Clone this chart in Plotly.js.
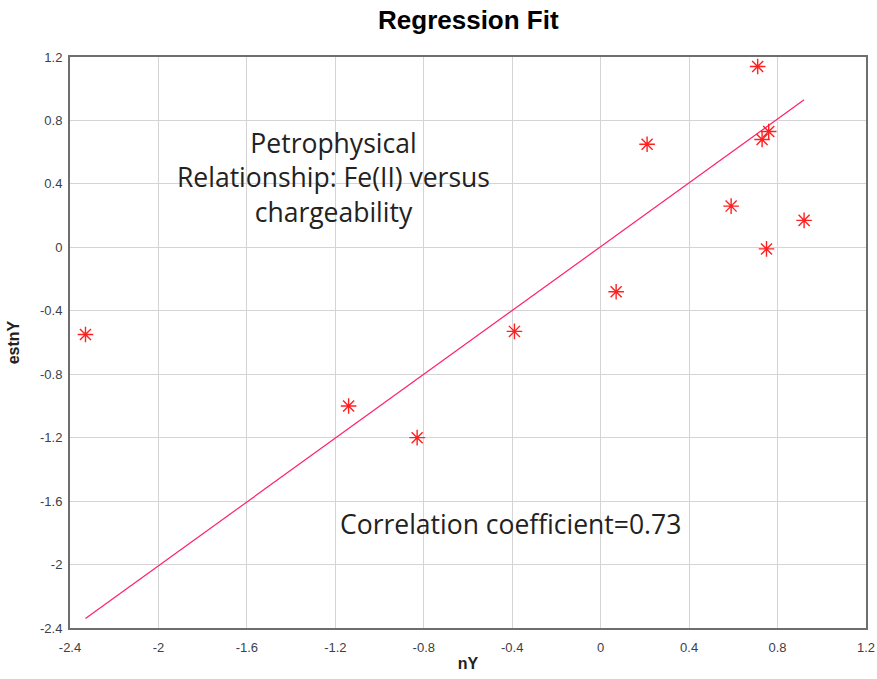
<!DOCTYPE html>
<html>
<head>
<meta charset="utf-8">
<script src="https://cdn.plot.ly/plotly-3.0.1.min.js"></script>
<style>html,body{margin:0;padding:0;background:#fff;}#chart{width:877px;height:679px;}</style>
</head>
<body>
<div id="chart"></div>
<script>
const nY =    [-2.33, -1.14, -0.83, -0.39, 0.07, 0.21, 0.59, 0.71, 0.73, 0.76, 0.75, 0.92];
const estnY = [-0.55, -1.00, -1.20, -0.53, -0.28, 0.65, 0.26, 1.14, 0.68, 0.73, -0.01, 0.17];
const fitX = [-2.33, 0.92];
const fitY = [-2.34, 0.93];
const tickVals = [-2.4, -2, -1.6, -1.2, -0.8, -0.4, 0, 0.4, 0.8, 1.2];
const tickText = ['-2.4', '-2', '-1.6', '-1.2', '-0.8', '-0.4', '0', '0.4', '0.8', '1.2'];

const traces = [
  {x: fitX, y: fitY, mode: 'lines', line: {color: '#ff1f6e', width: 1.2}, hoverinfo: 'skip'},
  {x: nY, y: estnY, mode: 'markers', marker: {symbol: 'asterisk-open', size: 13, color: '#ff2020', line: {color: '#ff2020', width: 1.4}}}
];

const axisCommon = {
  tickvals: tickVals, ticktext: tickText,
  showgrid: true, gridcolor: '#d4d4d4', gridwidth: 1,
  zeroline: false, showline: true, linecolor: '#6e6e6e', linewidth: 2, mirror: true,
  ticks: '', tickfont: {family: 'Liberation Sans, Arial, sans-serif', size: 13, color: '#3a3f4a'}
};

const layout = {
  width: 877, height: 679,
  margin: {l: 70, r: 11, t: 57, b: 51},
  paper_bgcolor: '#ffffff', plot_bgcolor: '#ffffff',
  showlegend: false,
  title: {text: '<b>Regression Fit</b>', x: 0.534, xanchor: 'center', y: 0.97, yanchor: 'middle',
          font: {family: 'Liberation Sans, Arial, sans-serif', size: 26, color: '#000000'}},
  xaxis: Object.assign({}, axisCommon, {range: [-2.4, 1.2], ticklabelstandoff: 6,
    title: {text: '<b>nY</b>', standoff: 4, font: {family: 'Liberation Sans, Arial, sans-serif', size: 16, color: '#222222'}}}),
  yaxis: Object.assign({}, axisCommon, {range: [-2.4, 1.2], ticklabelstandoff: 3,
    title: {text: '<b>estnY</b>', standoff: 16, font: {family: 'Liberation Sans, Arial, sans-serif', size: 16, color: '#222222'}}}),
  annotations: [
    {x: -1.21, y: 0.44, xref: 'x', yref: 'y', showarrow: false, align: 'center',
     text: 'Petrophysical<br>Relationship: Fe(II) versus<br>chargeability',
     font: {family: 'Open Sans, sans-serif', size: 26.5, color: '#222222'}},
    {x: -0.41, y: -1.745, xref: 'x', yref: 'y', showarrow: false,
     text: 'Correlation coefficient=0.73',
     font: {family: 'Open Sans, sans-serif', size: 26.5, color: '#222222'}}
  ]
};

Plotly.newPlot('chart', traces, layout, {displayModeBar: false, staticPlot: true});
</script>
</body>
</html>
